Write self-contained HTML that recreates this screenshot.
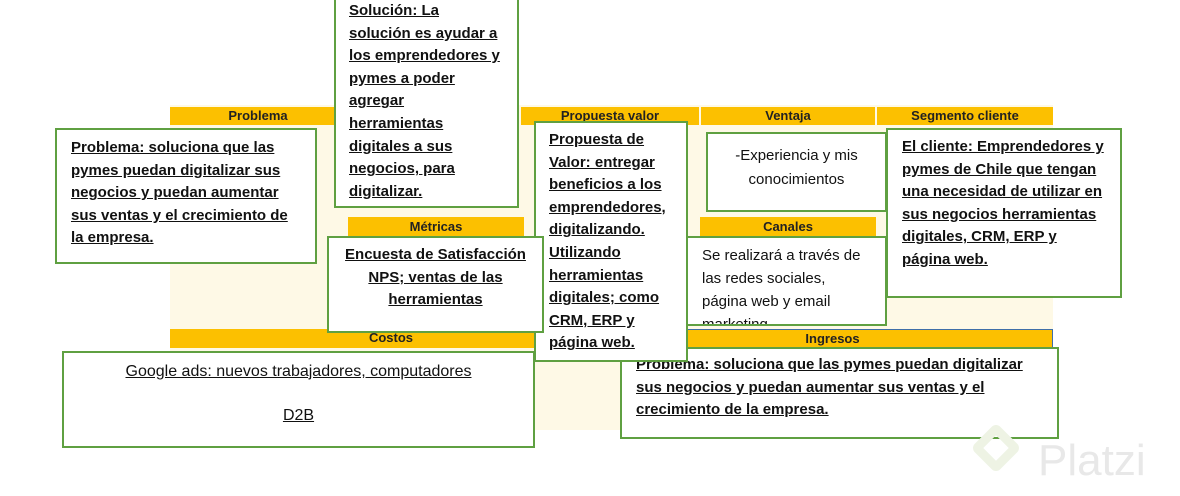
<!DOCTYPE html>
<html><head><meta charset="utf-8"><style>
body{margin:0;width:1180px;height:496px;background:#fff;position:relative;overflow:hidden;font-family:"Liberation Sans",sans-serif}
.a{position:absolute;box-sizing:border-box}
.h{background:#fcc000;font-weight:bold;font-size:13px;color:#222;text-align:center;line-height:18px}
.cr{background:#fef9e6}
.b{position:absolute;box-sizing:border-box;border:2px solid #5fa041;background:#fff;color:#111;font-size:15px;line-height:22.6px;white-space:nowrap;overflow:hidden}
.bd{font-weight:bold;text-decoration:underline}
</style></head><body>
<div class="a cr" style="left:170px;top:105px;width:883px;height:325px"></div>
<div class="a h" style="left:170px;top:107px;width:176px">Problema</div>
<div class="a h" style="left:346px;top:107px;width:174px"></div>
<div class="a h" style="left:521px;top:107px;width:178px">Propuesta valor</div>
<div class="a h" style="left:701px;top:107px;width:174px">Ventaja</div>
<div class="a h" style="left:877px;top:107px;width:176px">Segmento cliente</div>
<div class="a h" style="left:348px;top:217px;width:176px;height:20px;line-height:20px">Métricas</div>
<div class="a h" style="left:700px;top:217px;width:176px;height:20px;line-height:20px">Canales</div>
<div class="a h" style="left:170px;top:329px;width:442px;height:19px">Costos</div>
<div class="a h" style="left:612px;top:329px;width:441px;height:19px;border:1px solid #3f6fa8">Ingresos</div>

<div class="b bd" style="left:55px;top:128px;width:262px;height:136px;padding:7px 14px">Problema: soluciona que las<br>pymes puedan digitalizar sus<br>negocios y puedan aumentar<br>sus ventas y el crecimiento de<br>la empresa.</div>
<div class="b bd" style="left:334px;top:-6px;width:185px;height:214px;padding:4px 13px">Solución: La<br>solución es ayudar a<br>los emprendedores y<br>pymes a poder<br>agregar<br>herramientas<br>digitales a sus<br>negocios, para<br>digitalizar.</div>
<div class="b bd" style="left:620px;top:347px;width:439px;height:92px;padding:5px 14px">Problema: soluciona que las pymes puedan digitalizar<br>sus negocios y puedan aumentar sus ventas y el<br>crecimiento de la empresa.</div>
<div class="b bd" style="left:534px;top:121px;width:154px;height:241px;padding:6px 13px">Propuesta de<br>Valor: entregar<br>beneficios a los<br>emprendedores,<br>digitalizando.<br>Utilizando<br>herramientas<br>digitales; como<br>CRM, ERP y<br>página web.</div>
<div class="b bd" style="left:327px;top:236px;width:217px;height:97px;padding:6px 8px;text-align:center">Encuesta de Satisfacción<br>NPS; ventas de las<br>herramientas</div>
<div class="b" style="left:706px;top:132px;width:181px;height:80px;padding:10px 8px;text-align:center;line-height:24px">-Experiencia y mis<br>conocimientos</div>
<div class="b" style="left:686px;top:236px;width:201px;height:90px;padding:6px 14px;line-height:23px">Se realizará a través de<br>las redes sociales,<br>página web y email<br>marketing</div>
<div class="b bd" style="left:886px;top:128px;width:236px;height:170px;padding:6px 14px">El cliente: Emprendedores y<br>pymes de Chile que tengan<br>una necesidad de utilizar en<br>sus negocios herramientas<br>digitales, CRM, ERP y<br>página web.</div>
<div class="b" style="left:62px;top:351px;width:473px;height:97px;padding:8px;text-align:center;font-size:16px;line-height:22px;text-decoration:underline">Google ads: nuevos trabajadores, computadores<br><br>D2B</div>

<div class="a" style="left:978px;top:430px;width:36px;height:36px;border:9px solid #eef3e4;transform:rotate(45deg);border-radius:6px"></div>
<div class="a" style="left:1038px;top:436px;font-size:44px;color:#e8e8e8">Platzi</div>
</body></html>
